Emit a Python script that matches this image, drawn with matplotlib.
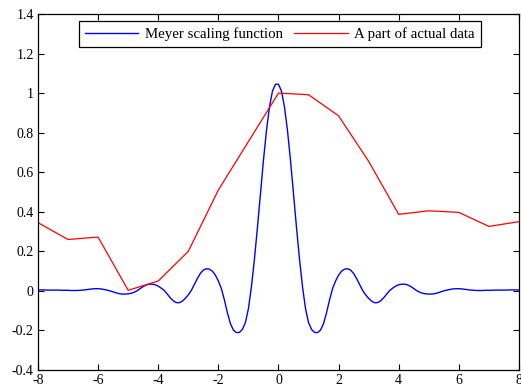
import numpy as np
import matplotlib
matplotlib.use("Agg")
import matplotlib.pyplot as plt

plt.rcParams['font.family'] = ['Liberation Serif', 'DejaVu Serif']
plt.rcParams['font.size'] = 10

# Meyer scaling function sampled on a 0.1 grid from -8 to 8
meyer_t = np.linspace(-8, 8, 161)
meyer_phi = [
    0.005, 0.005, 0.005, 0.004, 0.004, 0.004, 0.004, 0.004, 0.003, 0.003,
    0.003, 0.002, 0.002, 0.002, 0.003, 0.004, 0.006, 0.008, 0.010, 0.011,
    0.011, 0.010, 0.007, 0.004, 0.000, -0.005, -0.010, -0.014, -0.016, -0.016,
    -0.015, -0.012, -0.007, 0.001, 0.012, 0.022, 0.030, 0.034, 0.034, 0.031,
    0.024, 0.014, 0.002, -0.016, -0.035, -0.050, -0.059, -0.060, -0.052, -0.038,
    -0.020, 0.002, 0.032, 0.062, 0.088, 0.105, 0.112, 0.110, 0.100, 0.080,
    0.050, 0.012, -0.045, -0.110, -0.165, -0.198, -0.211, -0.210, -0.195, -0.160,
    -0.090, 0.020, 0.160, 0.320, 0.490, 0.660, 0.810, 0.930, 1.010, 1.045,
    1.045, 1.010, 0.930, 0.810, 0.660, 0.490, 0.320, 0.160, 0.020, -0.090,
    -0.160, -0.195, -0.210, -0.211, -0.198, -0.165, -0.110, -0.045, 0.012, 0.050,
    0.080, 0.100, 0.110, 0.112, 0.105, 0.088, 0.062, 0.032, 0.002, -0.020,
    -0.038, -0.052, -0.060, -0.059, -0.050, -0.035, -0.016, 0.002, 0.014, 0.024,
    0.031, 0.034, 0.034, 0.030, 0.022, 0.012, 0.001, -0.007, -0.012, -0.015,
    -0.016, -0.016, -0.014, -0.010, -0.005, 0.000, 0.004, 0.007, 0.010, 0.011,
    0.011, 0.010, 0.008, 0.006, 0.004, 0.003, 0.002, 0.002, 0.002, 0.003,
    0.003, 0.003, 0.004, 0.004, 0.004, 0.004, 0.004, 0.005, 0.005, 0.005,
    0.005,
]

# measured data segment at integer positions
data_t = [-8, -7, -6, -5, -4, -3, -2, -1, 0, 1, 2, 3, 4, 5, 6, 7, 8]
data_y = [0.345, 0.26, 0.272, 0.003, 0.05, 0.20, 0.51, 0.755, 1.0, 0.992,
          0.885, 0.655, 0.387, 0.405, 0.397, 0.326, 0.35]

xticks = [-8, -6, -4, -2, 0, 2, 4, 6, 8]
yticks = [-0.4, -0.2, 0, 0.2, 0.4, 0.6, 0.8, 1, 1.2, 1.4]

fig = plt.figure(figsize=(5.21, 3.88), dpi=100)
ax = fig.add_axes([0.0729, 0.0464, 0.9232, 0.9175])

ax.plot(meyer_t, meyer_phi, color='#0000ff', lw=1.0, label='Meyer scaling function')
ax.plot(data_t, data_y, color='#ff0000', lw=0.9, label='A part of actual data')

ax.set_xlim(-8, 8)
ax.set_ylim(-0.4, 1.4)
ax.set_xticks(xticks)
ax.set_xticklabels([str(v) for v in xticks])
ax.set_yticks(yticks)
ax.set_yticklabels([('%g' % v) for v in yticks])
ax.tick_params(direction='in', top=True, right=True, length=4, width=0.8,
               labelsize=10, pad=3)
for s in ax.spines.values():
    s.set_linewidth(0.9)

leg = ax.legend(loc='upper center', bbox_to_anchor=(0.503, 0.98), ncol=2,
                fancybox=False, framealpha=1, edgecolor='black',
                handlelength=3.6, handletextpad=0.45, columnspacing=0.75,
                borderpad=0.42, borderaxespad=0, fontsize=10.7)
leg.get_frame().set_linewidth(0.9)

fig.savefig('out.png', dpi=100)
